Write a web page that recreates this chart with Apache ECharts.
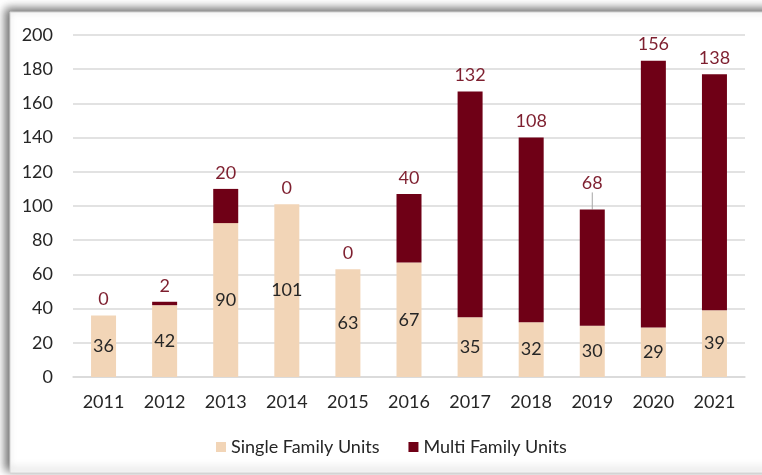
<!DOCTYPE html>
<html>
<head>
<meta charset="utf-8">
<script src="https://cdn.jsdelivr.net/npm/echarts@6/dist/echarts.min.js"></script>
<style>
html,body{margin:0;padding:0;background:#fff;}
#chart{width:762px;height:475px;}
</style>
</head>
<body>
<div id="chart"></div>
<script>
var years = ['2011','2012','2013','2014','2015','2016','2017','2018','2019','2020','2021'];
var singleFamily = [36, 42, 90, 101, 63, 67, 35, 32, 30, 29, 39];
var multiFamily = [0, 2, 20, 0, 0, 40, 132, 108, 68, 156, 138];
var seriesNames = ['Single Family Units', 'Multi Family Units'];
var leaderIndex = 8; // 2019 label drawn with a leader line

var FONT = 'Lato';
var multiData = multiFamily.map(function (v, i) {
  return i === leaderIndex ? {value: v, labelLine: {show: true}} : {value: v, labelLine: {show: false}};
});

var chart = echarts.init(document.getElementById('chart'), null, {renderer: 'canvas'});
chart.setOption({
  animation: false,
  textStyle: {fontFamily: FONT},
  graphic: [{
    type: 'rect',
    z: -10,
    silent: true,
    shape: {x: 10, y: 12, width: 780, height: 461},
    style: {
      fill: '#ffffff',
      stroke: '#d4d4d4',
      lineWidth: 1,
      shadowBlur: 9,
      shadowColor: 'rgba(0,0,0,0.6)',
      shadowOffsetX: -4,
      shadowOffsetY: -3
    }
  }],
  grid: {left: 73, right: 17, top: 35, bottom: 98, containLabel: false},
  legend: {
    data: seriesNames,
    left: 211,
    top: 433,
    itemWidth: 10,
    itemHeight: 10,
    itemGap: 29,
    icon: 'rect',
    textStyle: {fontSize: 18, color: '#262626', fontFamily: FONT}
  },
  xAxis: {
    type: 'category',
    data: years,
    axisLine: {show: true, lineStyle: {color: '#d9d9d9', width: 1.5}},
    axisTick: {show: false},
    axisLabel: {fontSize: 18, color: '#262626', margin: 16, fontFamily: FONT}
  },
  yAxis: {
    type: 'value',
    min: 0,
    max: 200,
    interval: 20,
    axisLine: {show: false},
    axisTick: {show: false},
    splitLine: {lineStyle: {color: '#d9d9d9', width: 1.5}},
    axisLabel: {fontSize: 18, color: '#262626', margin: 20, fontFamily: FONT}
  },
  series: [{
    name: seriesNames[0],
    type: 'bar',
    stack: 'units',
    barWidth: 25,
    data: singleFamily,
    itemStyle: {color: '#F2D5B7'},
    label: {show: true, position: 'inside', fontSize: 18, color: '#262626', fontFamily: FONT}
  }, {
    name: seriesNames[1],
    type: 'bar',
    stack: 'units',
    barWidth: 25,
    data: multiData,
    itemStyle: {color: '#6F0016'},
    label: {show: true, position: 'top', distance: 7, fontSize: 18, color: '#7E1F2F', fontFamily: FONT},
    labelLine: {show: false, lineStyle: {color: '#a6a6a6', width: 1}},
    labelLayout: function (p) {
      if (p.dataIndex === leaderIndex) { return {dy: -10}; }
      return {};
    }
  }]
});
</script>
</body>
</html>
